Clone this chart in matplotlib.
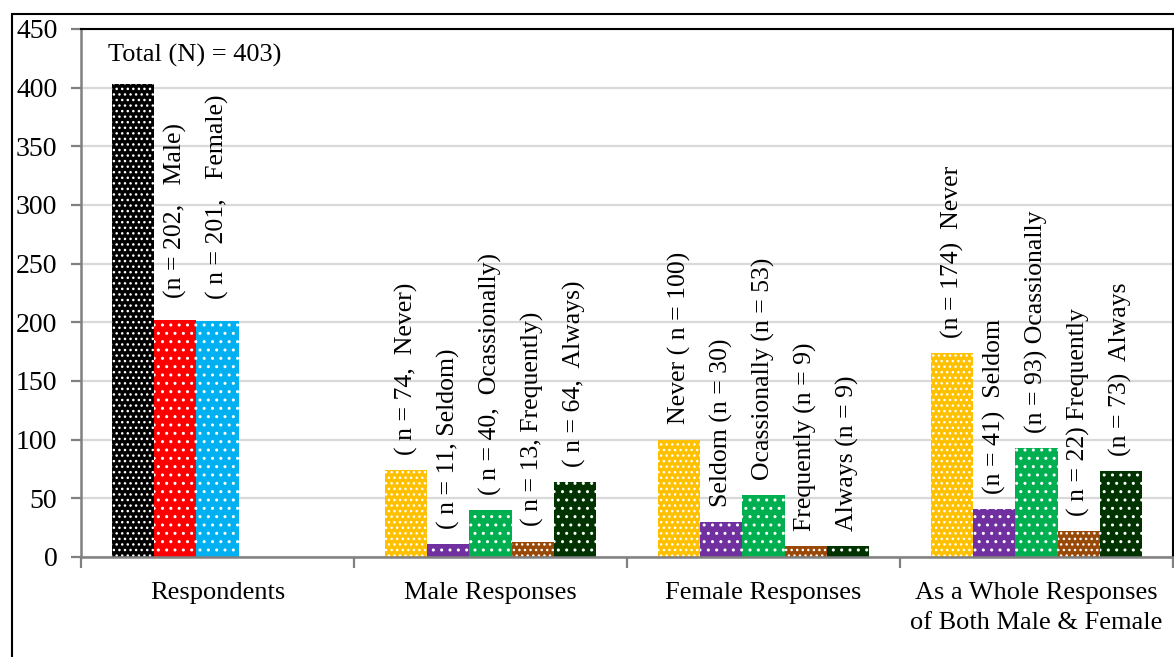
import matplotlib
matplotlib.use('Agg')
import matplotlib.pyplot as plt
from matplotlib.patches import Rectangle
from matplotlib.ticker import MultipleLocator, FixedLocator

categories = ['Respondents', 'Male Responses', 'Female Responses',
              'As a Whole Responses\nof Both Male & Female']

# respondents group (3 bars)
respondents = [403, 202, 201]
resp_labels = ['(n = 202,   Male)', '( n = 201,   Female)']

# response groups (5 bars each)
male = [74, 11, 40, 13, 64]
female = [100, 30, 53, 9, 9]
whole = [174, 41, 93, 22, 73]

male_labels = ['( n = 74,  Never)', '( n = 11, Seldom)', '( n = 40,  Ocassionally)',
               '( n = 13, Frequently)', '( n = 64,  Always)']
female_labels = ['Never ( n = 100)', 'Seldom (n = 30)', 'Ocassionally (n = 53)',
                 'Frequently (n = 9)', 'Always (n = 9)']
whole_labels = ['(n = 174)  Never', '(n = 41)  Seldom', '(n = 93) Ocassionally',
                '( n = 22) Frequently', '(n = 73)  Always']

resp_colors = ['#000000', '#FF0000', '#00B0F0']
resp_hatch = ['...', '..', '..']
resp_colors_ans = ['#FFC000', '#7030A0', '#00B050', '#984807', '#003300']
ans_hatch = ['...', '..', '..', '...', '..']

plt.rcParams['font.family'] = ['Liberation Serif', 'DejaVu Serif']
plt.rcParams['hatch.linewidth'] = 1.0

fig = plt.figure(figsize=(11.74, 6.57), dpi=100)
ax = fig.add_axes([81 / 1174, 1 - 557 / 657, (1173 - 81) / 1174, (557 - 29) / 657])

w = 0.154
fs = 19
lab_fs = 18.5

# respondents bars
for k, v in enumerate(respondents):
    x = 0 + (k - 2) * w
    ax.bar(x, v, width=w, color=resp_colors[k], edgecolor='white', linewidth=0,
           hatch=resp_hatch[k], zorder=2)
    if k == 0:
        ax.annotate('Total (N) = 403)', xy=(x - w / 2, v), xytext=(-3, 21),
                    textcoords='offset points', ha='left', va='center', fontsize=fs)
    else:
        ax.annotate(resp_labels[k - 1], xy=(x, v), xytext=(0, 16),
                    textcoords='offset points', rotation=90, ha='center', va='bottom',
                    fontsize=lab_fs)

for gi, (vals, labs) in enumerate([(male, male_labels), (female, female_labels),
                                   (whole, whole_labels)], start=1):
    for k, v in enumerate(vals):
        x = gi + (k - 2) * w
        ax.bar(x, v, width=w, color=resp_colors_ans[k], edgecolor='white', linewidth=0,
               hatch=ans_hatch[k], zorder=2)
        ax.annotate(labs[k], xy=(x, v), xytext=(0, 11), textcoords='offset points',
                    rotation=90, ha='center', va='bottom', fontsize=lab_fs)

ax.set_xlim(-0.5, 3.5)
ax.set_ylim(0, 450)
ax.yaxis.set_major_locator(MultipleLocator(50))
ax.yaxis.grid(True, color='#D9D9D9', linewidth=1.6, zorder=0)
ax.set_axisbelow(True)

ax.set_xticks(range(len(categories)))
ax.set_xticklabels(categories, fontsize=fs, linespacing=1.45)
ax.xaxis.set_minor_locator(FixedLocator([-0.5, 0.5, 1.5, 2.5, 3.5]))
ax.tick_params(axis='x', which='major', length=0, pad=18)
ax.tick_params(axis='x', which='minor', length=8, width=1.6, color='#808080')
ax.tick_params(axis='y', length=7, width=1.6, color='#808080', pad=10, labelsize=20)

for side in ['left', 'bottom']:
    ax.spines[side].set_color('#808080')
    ax.spines[side].set_linewidth(1.8)
for side in ['top', 'right']:
    ax.spines[side].set_color('black')
    ax.spines[side].set_linewidth(1.5)

# outer chart border
fig.patches.append(Rectangle((12 / 1174, -0.1), 1.2, 1 - 14 / 657 + 0.1,
                             transform=fig.transFigure, fill=False,
                             edgecolor='black', linewidth=1.5))

fig.savefig('out.png', dpi=100)
